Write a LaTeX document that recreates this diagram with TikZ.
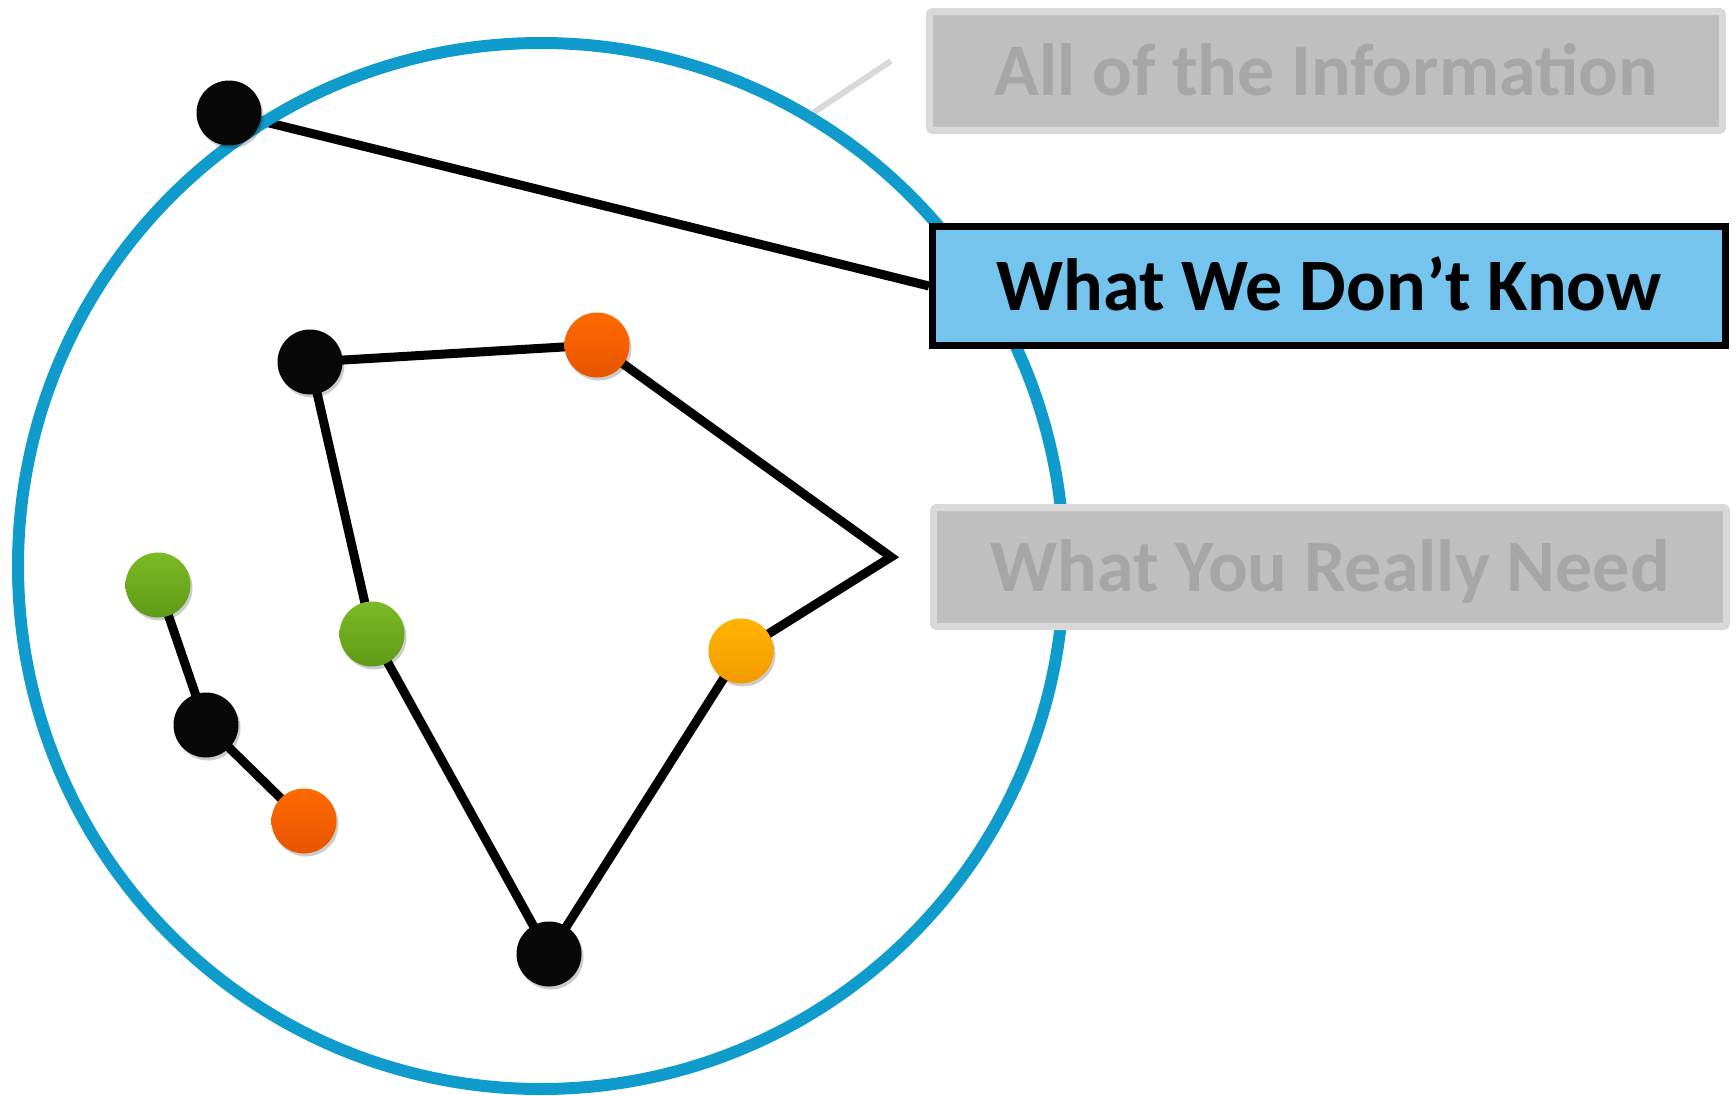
\documentclass[tikz,border=0pt]{standalone}
\usepackage{fontspec}
\setmainfont{Carlito}
\usetikzlibrary{shadows,backgrounds}
\definecolor{ringblue}{HTML}{0F9BCB}
\definecolor{knowblue}{HTML}{75C4EE}
\definecolor{boxgrey}{HTML}{BFBFBF}
\definecolor{rimgrey}{HTML}{D9D9D9}
\definecolor{textgrey}{HTML}{A6A6A6}
\definecolor{orangetop}{HTML}{FF6A00}
\definecolor{orangebot}{HTML}{E85400}
\definecolor{greentop}{HTML}{7CBA26}
\definecolor{greenbot}{HTML}{5E9A16}
\definecolor{yellowtop}{HTML}{FFB400}
\definecolor{yellowbot}{HTML}{F39A00}

\begin{document}
\begin{tikzpicture}[x=1pt, y=-1pt,
        dot/.style={circle, minimum size=65pt, inner sep=0pt, drop shadow={shadow xshift=2pt, shadow yshift=-3pt, fill=black, opacity=0.2}},
        blackdot/.style={dot, fill=black!97},
        orangedot/.style={dot, top color=orangetop, bottom color=orangebot},
        greendot/.style={dot, top color=greentop, bottom color=greenbot},
        yellowdot/.style={dot, top color=yellowtop, bottom color=yellowbot},
        link/.style={line width=9pt, line join=miter},
        tagbox/.style={rectangle, minimum width=793pt, minimum height=119pt, inner sep=0pt, font=\fontsize{74}{80}\selectfont\bfseries, text height=48pt, text depth=0pt},
        greybox/.style={tagbox, fill=boxgrey, draw=rimgrey, line width=7pt, rounded corners=3pt, text=textgrey},
        knowbox/.style={tagbox, fill=knowblue, draw=black, line width=7pt}]
    \useasboundingbox (0,0) rectangle (1736,1095);
    \node[circle, draw=ringblue, line width=12pt, minimum size=1046pt, inner sep=0pt] (ring) at (541,566) {};
    \node[greybox] (allinfo) at (1326,71) {All of the Information};
    \node[knowbox] (unknown) at (1329,286) {What We Don’t Know};
    \node[greybox] (need) at (1330,567) {What You Really Need};
    \coordinate (infotip) at (891,61);
    \coordinate (corner) at (891,557);
    \node[blackdot] (top) at (229,113) {};
    \node[blackdot] (a) at (310,362) {};
    \node[orangedot] (b) at (597,345) {};
    \node[yellowdot] (d) at (741,651) {};
    \node[blackdot] (e) at (549,954) {};
    \node[greendot] (f) at (372,634) {};
    \node[greendot] (g) at (158,585) {};
    \node[blackdot] (h) at (206,725) {};
    \node[orangedot] (i) at (304,821) {};
    \begin{scope}[on background layer]
        \draw[rimgrey, line width=6pt] (ring.59.6) -- (infotip);
        \draw[link] (top.center) -- (unknown.west);
        \draw[link] (a.center) -- (b.center) -- (corner) -- (d.center) -- (e.center) -- (f.center) -- (a.center);
        \draw[link] (g.center) -- (h.center) -- (i.center);
    \end{scope}
\end{tikzpicture}
\end{document}
